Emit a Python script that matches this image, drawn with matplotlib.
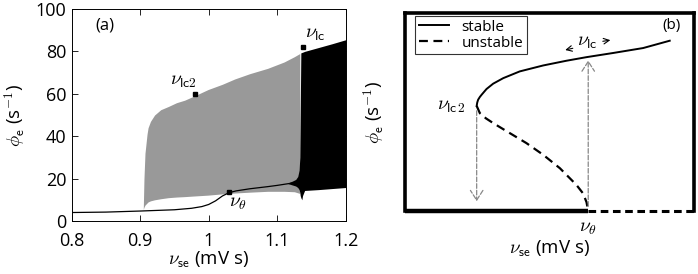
import matplotlib
matplotlib.use("Agg")
import matplotlib.pyplot as plt

plt.rcParams['font.family'] = ['Open Sans', 'DejaVu Sans']
plt.rcParams['mathtext.fontset'] = 'cm'

# ---------------- Panel (a) data ----------------
fp_x = [0.80, 0.85, 0.90, 0.95, 0.975, 0.99, 1.00, 1.01, 1.02, 1.03, 1.04, 1.06, 1.086, 1.10, 1.12, 1.13]
fp_y = [4.0, 4.2, 4.7, 5.3, 6.0, 6.8, 7.8, 9.5, 11.8, 13.4, 14.2, 15.2, 16.2, 16.8, 17.8, 18.4]

gray_x = [0.9045, 0.9055, 0.907, 0.910, 0.9115, 0.915, 0.921, 0.93, 0.941, 0.953, 0.965, 0.979,
          0.999, 1.02, 1.038, 1.06, 1.086, 1.11, 1.125, 1.133]
gray_upper = [5.5, 20, 32, 41, 44, 47, 50, 52.5, 54, 55.8, 57, 59, 62, 64.5, 67, 69.5, 72, 75, 77.5, 79]
gray_lower = [5.5, 6.5, 7.5, 8.5, 9, 9.5, 10, 10.5, 11, 11.3, 11.5, 11.8, 12.2, 12.8, 13.2, 13.6, 14.0, 14.0, 13.8, 13.0]

black_x = [1.116, 1.122, 1.127, 1.130, 1.1320, 1.1330, 1.1336, 1.1345, 1.136, 1.137, 1.14, 1.16, 1.18, 1.20]
black_upper = [18.0, 18.8, 19.6, 21.0, 24.0, 30.0, 50.0, 79.3, 79.5, 79.6, 80.0, 81.8, 83.6, 85.5]
black_lower = [17.6, 17.0, 16.5, 15.8, 14.8, 13.5, 12.0, 11.0, 10.0, 12.0, 14.4, 14.8, 15.3, 15.8]

marker_x = [0.98, 1.137, 1.03]
marker_y = [60, 82, 13.5]

xticks_a = [0.8, 0.9, 1.0, 1.1, 1.2]
xticklabels_a = ['0.8', '0.9', '1', '1.1', '1.2']
yticks_a = [0, 20, 40, 60, 80, 100]

# ---------------- Panel (b) data (schematic, axes units) ----------------
stable_x = [0.248, 0.250, 0.253, 0.259, 0.265, 0.282, 0.305, 0.340, 0.397, 0.478, 0.559, 0.628, 0.720, 0.824, 0.916]
stable_y = [0.531, 0.548, 0.562, 0.576, 0.587, 0.616, 0.643, 0.671, 0.705, 0.735, 0.759, 0.777, 0.798, 0.823, 0.860]
unstable_x = [0.248, 0.259, 0.280, 0.305, 0.363, 0.420, 0.478, 0.536, 0.593, 0.616, 0.628, 0.634]
unstable_y = [0.531, 0.494, 0.468, 0.444, 0.393, 0.343, 0.284, 0.216, 0.132, 0.089, 0.045, 0.0]
low_stable_x = [0.0, 0.634]
low_stable_y = [0.0, 0.0]
low_unstable_x = [0.634, 1.0]
low_unstable_y = [0.0, 0.0]
nu_theta_b = 0.634
nu_lc2_b = 0.248

fig = plt.figure(figsize=(6.98, 2.74), dpi=100)

nu_lc2 = r'$\nu_{\mathsf{lc2}}$'
nu_lc = r'$\nu_{\mathsf{lc}}$'
nu_th = r'$\nu_{\theta}$'
xlab = r'$\nu_{\mathsf{se}}$ (mV s)'
ylab = r'$\phi_{\mathsf{e}}$ (s$^{\mathsf{-1}}$)'

# ---------------- Panel (a) ----------------
ax = fig.add_axes([71.7 / 698, 1 - 221 / 274, (345.7 - 71.7) / 698, (221 - 9) / 274])
ax.fill_between(gray_x, gray_lower, gray_upper, color='#999999', lw=0, zorder=1)
ax.fill_between(black_x, black_lower, black_upper, color='black', lw=0, zorder=2)
ax.plot(fp_x, fp_y, color='black', lw=0.9, zorder=3)
ax.plot(marker_x, marker_y, 's', color='black', ms=3.5, zorder=4)
ax.set_xlim(0.8, 1.2)
ax.set_ylim(0, 100)
ax.set_xticks(xticks_a)
ax.set_xticklabels(xticklabels_a)
ax.set_yticks(yticks_a)
ax.tick_params(direction='in', top=True, right=True, labelsize=13, length=4, width=0.6)
ax.tick_params(axis='x', pad=8)
ax.tick_params(axis='y', pad=4)
for s in ax.spines.values():
    s.set_linewidth(0.7)
ax.text(0.835, 92, '(a)', fontsize=12, va='center', ha='left')
ax.text(0.963, 66, nu_lc2, fontsize=14, va='center', ha='center')
ax.text(1.14, 88, nu_lc, fontsize=14, va='center', ha='left')
ax.text(1.03, 8.5, nu_th, fontsize=14, va='center', ha='left')
ax.set_xlabel(xlab, fontsize=13.5, labelpad=0)
ax.set_ylabel(ylab, fontsize=13.5, labelpad=6)

# ---------------- Panel (b) ----------------
bx = fig.add_axes([405 / 698, 1 - 211 / 274, (694 - 405) / 698, (211 - 13) / 274])
bx.set_xlim(0, 1)
bx.set_ylim(0, 1)
bx.set_xticks([])
bx.set_yticks([])
for side in ['top', 'left', 'right']:
    bx.spines[side].set_linewidth(2.6)
bx.spines['bottom'].set_visible(False)

l1, = bx.plot(stable_x, stable_y, color='black', lw=1.4, label='stable', zorder=3)
l2, = bx.plot(unstable_x, unstable_y, color='black', lw=1.6, ls=(0, (4, 2.5)), label='unstable', zorder=3)
bx.plot(low_stable_x, low_stable_y, color='black', lw=3.2, clip_on=False, solid_capstyle='butt', zorder=4)
bx.plot(low_unstable_x, low_unstable_y, color='black', lw=2.2, ls=(0, (2.5, 1.5)), clip_on=False, zorder=4)

bx.annotate('', xy=(nu_lc2_b, 0.035), xytext=(nu_lc2_b, 0.52),
            arrowprops=dict(arrowstyle='->,head_length=0.7,head_width=0.45', color='#888888', lw=0.9, ls='--'))
bx.annotate('', xy=(nu_theta_b, 0.775), xytext=(nu_theta_b, 0.01),
            arrowprops=dict(arrowstyle='->,head_length=0.7,head_width=0.45', color='#888888', lw=0.9, ls='--'))

bx.annotate('', xy=(0.545, 0.81), xytext=(0.59, 0.825),
            arrowprops=dict(arrowstyle='->', color='black', lw=0.8))
bx.annotate('', xy=(0.72, 0.865), xytext=(0.675, 0.855),
            arrowprops=dict(arrowstyle='->', color='black', lw=0.8))
bx.text(0.632, 0.855, nu_lc, fontsize=14, ha='center', va='center')
bx.text(0.212, 0.53, r'$\nu_{\mathsf{lc\,2}}$', fontsize=14, ha='right', va='center')
bx.text(nu_theta_b, -0.085, nu_th, fontsize=14, ha='center', va='center', clip_on=False)
bx.text(0.955, 0.935, '(b)', fontsize=11, ha='right', va='center')

leg = bx.legend(handles=[l1, l2], loc='upper left', bbox_to_anchor=(0.035, 0.985),
                fontsize=11, frameon=True, fancybox=False, edgecolor='black',
                handlelength=2.0, handletextpad=0.8, borderpad=0.25, labelspacing=0.05,
                borderaxespad=0)
leg.get_frame().set_linewidth(0.8)

bx.set_xlabel(xlab, fontsize=13.5, labelpad=20)
bx.set_ylabel(ylab, fontsize=13.5, labelpad=14)

fig.savefig('out.png', dpi=100)
